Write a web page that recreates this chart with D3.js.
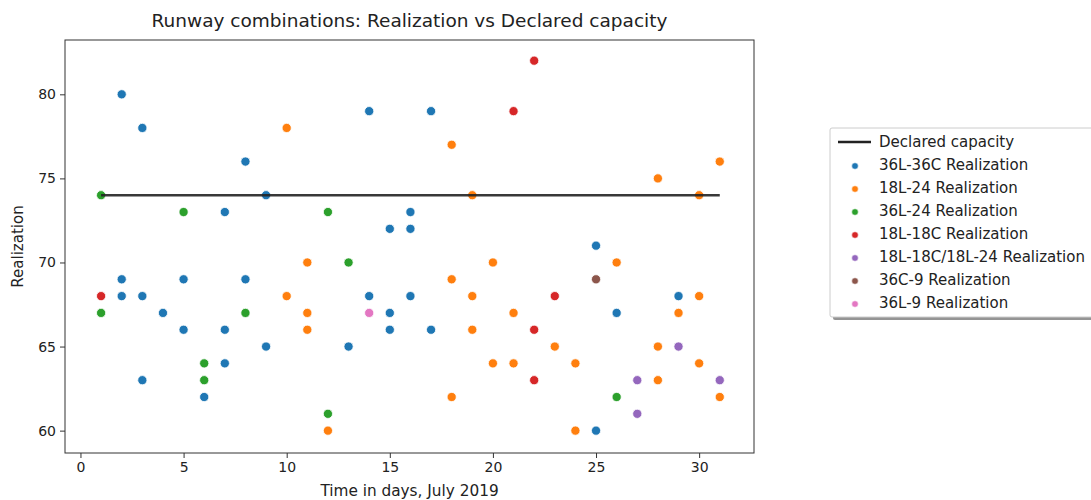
<!DOCTYPE html>
<html>
<head>
<meta charset="utf-8">
<script src="https://cdn.jsdelivr.net/npm/d3@7"></script>
<style>
  html, body { margin: 0; padding: 0; background: #fff; }
  svg { display: block; font-family: "DejaVu Sans", sans-serif; }
</style>
</head>
<body>
<svg id="chart" width="1091" height="500"></svg>
<script>
// Daily realization per runway combination, July 2019
const days36L36C = [2, 3, 8, 9, 7, 2, 2, 3, 4, 5, 5, 3, 6, 7, 7, 8, 9, 13, 14, 14, 15, 15, 15, 16, 16, 16, 17, 17, 25, 25, 26, 29];
const vals36L36C = [80, 78, 76, 74, 73, 69, 68, 68, 67, 69, 66, 63, 62, 66, 64, 69, 65, 65, 79, 68, 72, 67, 66, 73, 72, 68, 79, 66, 71, 60, 67, 68];

const days18L24 = [10, 10, 11, 11, 11, 12, 18, 18, 18, 19, 19, 19, 20, 20, 21, 21, 23, 24, 24, 26, 28, 28, 28, 29, 30, 30, 30, 31, 31];
const vals18L24 = [78, 68, 70, 67, 66, 60, 77, 69, 62, 74, 68, 66, 70, 64, 67, 64, 65, 64, 60, 70, 75, 65, 63, 67, 74, 68, 64, 76, 62];

const days36L24 = [1, 1, 5, 6, 6, 8, 12, 12, 13, 26];
const vals36L24 = [74, 67, 73, 64, 63, 67, 73, 61, 70, 62];

const days18L18C = [1, 21, 22, 22, 22, 23];
const vals18L18C = [68, 79, 82, 66, 63, 68];

const days18L18C18L24 = [27, 27, 29, 31];
const vals18L18C18L24 = [63, 61, 65, 63];

const days36C9 = [25];
const vals36C9 = [69];

const days36L9 = [14];
const vals36L9 = [67];

// Declared capacity for the month
const capacityDays = [1, 31];
const capacityValue = 74;

const seriesNames = ["36L-36C Realization", "18L-24 Realization", "36L-24 Realization",
  "18L-18C Realization", "18L-18C/18L-24 Realization", "36C-9 Realization", "36L-9 Realization"];
const seriesColors = ["#1f77b4", "#ff7f0e", "#2ca02c", "#d62728", "#9467bd", "#8c564b", "#e377c2"];
const seriesDays = [days36L36C, days18L24, days36L24, days18L18C, days18L18C18L24, days36C9, days36L9];
const seriesVals = [vals36L36C, vals18L24, vals36L24, vals18L18C, vals18L18C18L24, vals36C9, vals36L9];

const xTicks = [0, 5, 10, 15, 20, 25, 30];
const yTicks = [60, 65, 70, 75, 80];

const svg = d3.select("#chart");
const plot = { left: 65, right: 754, top: 40, bottom: 453 };

const x = d3.scaleLinear().domain([-0.75, 32.66]).range([plot.left, plot.right]);
const y = d3.scaleLinear().domain([58.67, 83.23]).range([plot.bottom, plot.top]);

// Axes
const xAxis = svg.append("g")
  .attr("transform", `translate(0,${plot.bottom})`)
  .call(d3.axisBottom(x).tickValues(xTicks).tickSize(5).tickPadding(4).tickFormat(d3.format("d")));
const yAxis = svg.append("g")
  .attr("transform", `translate(${plot.left},0)`)
  .call(d3.axisLeft(y).tickValues(yTicks).tickSize(5).tickPadding(4).tickFormat(d3.format("d")));
[xAxis, yAxis].forEach(g => {
  g.select(".domain").remove();
  g.selectAll("line").attr("stroke", "#333").attr("stroke-width", 1);
  g.selectAll("text").attr("fill", "#222").style("font-size", "14px").style("font-family", "DejaVu Sans");
});

// Points
seriesNames.forEach((name, i) => {
  const pts = seriesDays[i].map((d, j) => ({ day: d, val: seriesVals[i][j] }));
  svg.append("g").selectAll("circle").data(pts).join("circle")
    .attr("cx", d => x(d.day))
    .attr("cy", d => y(d.val))
    .attr("r", 4.6)
    .attr("fill", seriesColors[i])
    .attr("stroke", "#fff")
    .attr("stroke-width", 0.8);
});

// Declared capacity line (drawn above the points)
svg.append("path")
  .datum(capacityDays.map(d => ({ day: d, val: capacityValue })))
  .attr("d", d3.line().x(d => x(d.day)).y(d => y(d.val)))
  .attr("fill", "none")
  .attr("stroke", "#222")
  .attr("stroke-opacity", 0.9)
  .attr("stroke-width", 2.5);

// Frame
svg.append("rect")
  .attr("x", plot.left).attr("y", plot.top)
  .attr("width", plot.right - plot.left).attr("height", plot.bottom - plot.top)
  .attr("fill", "none").attr("stroke", "#333").attr("stroke-width", 1);

// Title and axis labels
svg.append("text")
  .attr("x", (plot.left + plot.right) / 2).attr("y", 27)
  .attr("text-anchor", "middle").style("font-size", "18.5px").attr("fill", "#222")
  .text("Runway combinations: Realization vs Declared capacity");
svg.append("text")
  .attr("x", (plot.left + plot.right) / 2).attr("y", 496)
  .attr("text-anchor", "middle").style("font-size", "15.3px").attr("fill", "#222")
  .text("Time in days, July 2019");
svg.append("text")
  .attr("transform", `translate(23,${(plot.top + plot.bottom) / 2}) rotate(-90)`)
  .attr("text-anchor", "middle").style("font-size", "15px").attr("fill", "#222")
  .text("Realization");

// Legend
const lg = svg.append("g").attr("transform", "translate(830,128)");
const lgW = 270, lgH = 189;
lg.append("rect").attr("x", 3).attr("y", 3).attr("width", lgW).attr("height", lgH)
  .attr("rx", 2).attr("fill", "#888").attr("opacity", 0.9);
lg.append("rect").attr("x", 0).attr("y", 0).attr("width", lgW).attr("height", lgH)
  .attr("rx", 2).attr("fill", "#fff").attr("stroke", "#ccc").attr("stroke-width", 1);
const rowH = 23;
lg.append("line").attr("x1", 8).attr("x2", 41).attr("y1", 14).attr("y2", 14)
  .attr("stroke", "#222").attr("stroke-width", 2.5);
lg.append("text").attr("x", 49).attr("y", 14).attr("dy", "0.35em")
  .style("font-size", "15px").attr("fill", "#222").text("Declared capacity");
seriesNames.forEach((name, i) => {
  const yy = 14 + rowH * (i + 1);
  lg.append("circle").attr("cx", 25).attr("cy", yy + 1).attr("r", 3.3)
    .attr("fill", seriesColors[i]).attr("stroke", "#fff").attr("stroke-width", 0.6);
  lg.append("text").attr("x", 49).attr("y", yy).attr("dy", "0.35em")
    .style("font-size", "15px").attr("fill", "#222").text(name);
});
</script>
</body>
</html>
